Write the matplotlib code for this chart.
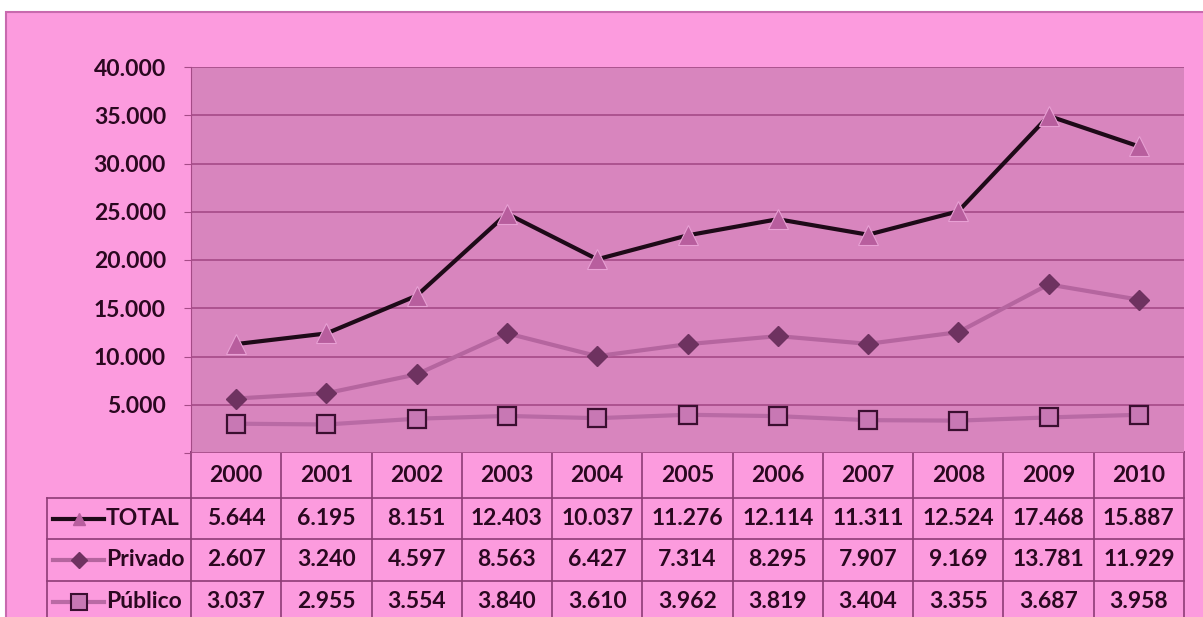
import numpy as np
import matplotlib.pyplot as plt
from matplotlib.lines import Line2D
from matplotlib.patches import Rectangle
from matplotlib.ticker import FuncFormatter, MultipleLocator

# datos (tabla del gráfico)
years = ['2000', '2001', '2002', '2003', '2004', '2005', '2006', '2007', '2008', '2009', '2010']
total = [5644, 6195, 8151, 12403, 10037, 11276, 12114, 11311, 12524, 17468, 15887]
privado = [2607, 3240, 4597, 8563, 6427, 7314, 8295, 7907, 9169, 13781, 11929]
publico = [3037, 2955, 3554, 3840, 3610, 3962, 3819, 3404, 3355, 3687, 3958]
series_names = ['TOTAL', 'Privado', 'Público']

# colores
pink = '#FC9BDE'
plot_bg = '#D885BE'
grid_c = '#A54B87'
edge_c = '#8E3C76'
text_c = '#2A0820'

W, H = 1203, 617
fig = plt.figure(figsize=(W / 100, H / 100), dpi=100)
fig.patch.set_facecolor('white')

# capa de fondo en pixeles
bg = fig.add_axes([0, 0, 1, 1], zorder=0)
bg.set_xlim(0, W)
bg.set_ylim(H, 0)
bg.axis('off')
bg.add_patch(Rectangle((6, 12), W, H, fc=pink, ec='#C86AAE', lw=1.5))

# gráfico de líneas apiladas
x0, x1, ytop, ybot = 191, 1184, 67, 453
ax = fig.add_axes([x0 / W, (H - ybot) / H, (x1 - x0) / W, (ybot - ytop) / H], zorder=1)
ax.set_facecolor(plot_bg)
xs = np.arange(len(years))
pub = np.array(publico)
priv_st = pub + np.array(privado)
tot_st = priv_st + np.array(total)

ax.plot(xs, pub, color='#B96AA5', lw=3, marker='s', ms=13, mfc='#C878B4', mec='#3A0F30', mew=1.6, zorder=3)
ax.plot(xs, priv_st, color='#B5659F', lw=3, marker='D', ms=10, mfc='#6E3260', mec='#6E3260', zorder=3)
ax.plot(xs, tot_st, color='#1E0A18', lw=3, marker='^', ms=14, mfc='#B85E9E', mec='#E8A0D4', mew=0.8, zorder=4)

ax.set_xlim(-0.5, len(years) - 0.5)
ax.set_ylim(0, 40000)
ax.yaxis.set_major_locator(MultipleLocator(5000))
ax.yaxis.set_major_formatter(FuncFormatter(lambda v, p: '' if v == 0 else f'{v:,.0f}'.replace(',', '.')))
ax.set_xticks([])
ax.grid(axis='y', color=grid_c, lw=1.2)
ax.set_axisbelow(True)
for s in ['top', 'right', 'bottom']:
    ax.spines[s].set_visible(False)
ax.spines['left'].set_color(grid_c)
ax.tick_params(axis='y', length=5, color=grid_c, pad=13, labelsize=16.5, labelcolor=text_c)
for lab in ax.get_yticklabels():
    lab.set_fontfamily('Lato')
    lab.set_fontweight('bold')

# tabla de datos
rows_y = [452, 498, 539, 581, 623]
cw = (x1 - x0) / len(years)
lc = edge_c
for i in range(len(years) + 1):
    bg.plot([x0 + i * cw] * 2, [rows_y[0], H + 5], color=lc, lw=1.2, zorder=2)
bg.plot([47, 47], [rows_y[1], H + 5], color=lc, lw=1.2, zorder=2)
bg.plot([x0, x1], [rows_y[0]] * 2, color=lc, lw=1.2, zorder=2)
for y in rows_y[1:4]:
    bg.plot([47, x1], [y, y], color=lc, lw=1.2, zorder=2)

fnt = dict(family='Lato', weight='bold', size=16.5, color=text_c, ha='center', va='center')
for i, yr in enumerate(years):
    bg.text(x0 + (i + 0.5) * cw, (rows_y[0] + rows_y[1]) / 2, yr, **fnt)
for r, vals in enumerate([total, privado, publico]):
    yc = (rows_y[r + 1] + rows_y[r + 2]) / 2
    for i, v in enumerate(vals):
        bg.text(x0 + (i + 0.5) * cw, yc, f'{v:,.0f}'.replace(',', '.'), **fnt)

# leyenda dentro de la tabla
styles = [
    dict(color='#1E0A18', marker='^', ms=9, mfc='#B85E9E', mec='#B85E9E'),
    dict(color='#B5659F', marker='D', ms=8, mfc='#6E3260', mec='#6E3260'),
    dict(color='#B96AA5', marker='s', ms=11, mfc='#C878B4', mec='#3A0F30', mew=1.5),
]
for r, (name, st) in enumerate(zip(series_names, styles)):
    yc = (rows_y[r + 1] + rows_y[r + 2]) / 2
    bg.add_line(Line2D([53, 78.5, 104], [yc, yc, yc], lw=3, markevery=[1], **st))
    bg.text(106, yc, name, family='Lato', weight='bold', size=16.5, color=text_c, ha='left', va='center')

fig.savefig('out.png', dpi=100)
